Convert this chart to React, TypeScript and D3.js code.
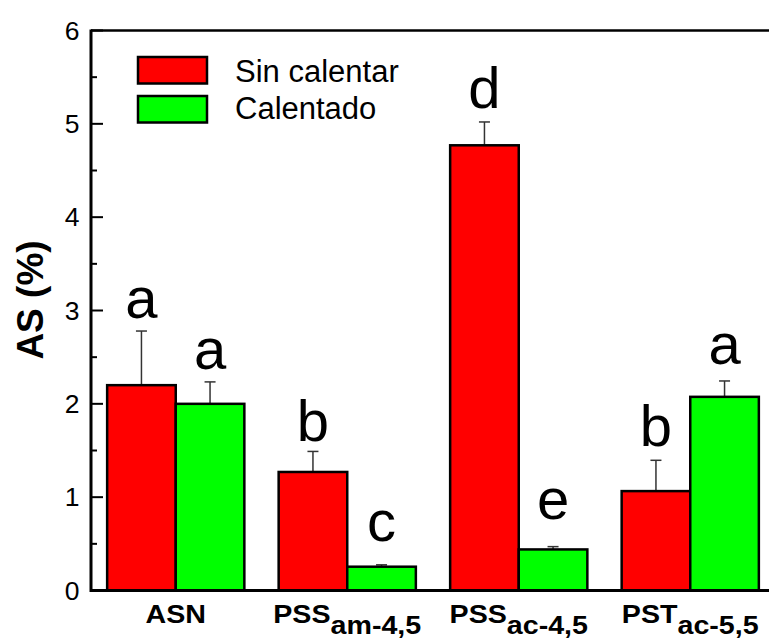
import React from "react";
import * as d3 from "d3";

const categories = ["ASN", "PSS", "PSS", "PST"];
const subscripts = ["", "am-4,5", "ac-4,5", "ac-5,5"];
const series = ["Sin calentar", "Calentado"];
const sinCalentar = [2.2, 1.27, 4.77, 1.065];
const sinCalentarErr = [0.58, 0.22, 0.25, 0.33];
const calentado = [2.0, 0.255, 0.44, 2.075];
const calentadoErr = [0.235, 0.02, 0.03, 0.17];
const sinLetters = ["a", "b", "d", "b"];
const calLetters = ["a", "c", "e", "a"];
const sinLetterY = [2.92, 1.6, 5.17, 1.55];
const calLetterY = [2.37, 0.53, 0.77, 2.43];
const yTicks = [0, 1, 2, 3, 4, 5, 6];
const yMinorTicks = [0.5, 1.5, 2.5, 3.5, 4.5, 5.5];
const colors = ["#ff0000", "#00ff00"];

const W = 769;
const H = 639;
const FONT = "'Liberation Sans', Arial, Helvetica, sans-serif";

export default function App() {
  const left = 91;
  const top = 30.5;
  const bottom = 590.5;
  const y = d3.scaleLinear().domain([0, 6]).range([bottom, top]);
  const x0 = d3
    .scaleBand<number>()
    .domain(d3.range(categories.length))
    .range([left - 1, left - 1 + 4 * 171.5])
    .paddingInner(0.2)
    .paddingOuter(0.1);
  const x1 = d3.scaleBand<number>().domain([0, 1]).range([0, x0.bandwidth()]);

  const groups = [
    { vals: sinCalentar, errs: sinCalentarErr, letters: sinLetters, ly: sinLetterY },
    { vals: calentado, errs: calentadoErr, letters: calLetters, ly: calLetterY },
  ];

  return (
    <svg
      width={W}
      height={H}
      style={{ position: "absolute", left: 0, top: 0, background: "#fff" }}
      fontFamily={FONT}
    >
      <rect x={0} y={0} width={W} height={H} fill="#fff" />
      {/* bars */}
      {categories.map((c, i) =>
        groups.map((g, s) => {
          const bx = (x0(i) as number) + (x1(s) as number);
          const bw = x1.bandwidth();
          const cx = bx + bw / 2;
          const yv = y(g.vals[i]);
          const ye = y(g.vals[i] + g.errs[i]);
          return (
            <g key={`${i}-${s}`}>
              <line x1={cx} x2={cx} y1={yv} y2={ye} stroke="#333" strokeWidth={1.5} />
              <line x1={cx - 5.5} x2={cx + 5.5} y1={ye} y2={ye} stroke="#333" strokeWidth={1.5} />
              <rect
                x={bx}
                y={yv}
                width={bw}
                height={bottom - yv}
                fill={colors[s]}
                stroke="#000"
                strokeWidth={2.5}
              />
              <text x={cx} y={y(g.ly[i])} textAnchor="middle" fontSize={58} fill="#000">
                {g.letters[i]}
              </text>
            </g>
          );
        })
      )}
      {/* frame */}
      <line x1={left} x2={W} y1={top} y2={top} stroke="#000" strokeWidth={2.5} />
      <line x1={left} x2={W} y1={bottom} y2={bottom} stroke="#000" strokeWidth={3} />
      <line x1={left} x2={left} y1={top - 1} y2={bottom + 1.5} stroke="#000" strokeWidth={3} />
      {/* y ticks */}
      {yTicks.map((t) => (
        <g key={`t${t}`}>
          <line x1={left} x2={left + 12} y1={y(t)} y2={y(t)} stroke="#000" strokeWidth={2} />
          <text x={79.5} y={y(t)} dy="0.35em" textAnchor="end" fontSize={26.5} fill="#000">
            {t}
          </text>
        </g>
      ))}
      {yMinorTicks.map((t) => (
        <line key={`m${t}`} x1={left} x2={left + 6} y1={y(t)} y2={y(t)} stroke="#000" strokeWidth={2} />
      ))}
      {/* y label */}
      <text
        transform={`translate(43,300) rotate(-90)`}
        textAnchor="middle"
        fontSize={37}
        fontWeight="bold"
        fill="#000"
      >
        AS (%)
      </text>
      {/* x labels */}
      {categories.map((c, i) => (
        <g
          key={`x${i}`}
          transform={`translate(${(x0(i) as number) + x0.bandwidth() / 2},622.5) scale(1.08,1)`}
        >
          <text x={0} y={0} textAnchor="middle" fontSize={26.5} fontWeight="bold" fill="#000">
            {c}
            {subscripts[i] && <tspan dy={11.5}>{subscripts[i]}</tspan>}
          </text>
        </g>
      ))}
      {/* legend */}
      {series.map((name, s) => (
        <g key={`lg${s}`}>
          <rect
            x={138}
            y={57 + s * 39}
            width={69}
            height={26.5}
            fill={colors[s]}
            stroke="#000"
            strokeWidth={2.5}
          />
          <text x={235} y={81.5 + s * 37} fontSize={31} fill="#000">
            {name}
          </text>
        </g>
      ))}
    </svg>
  );
}
